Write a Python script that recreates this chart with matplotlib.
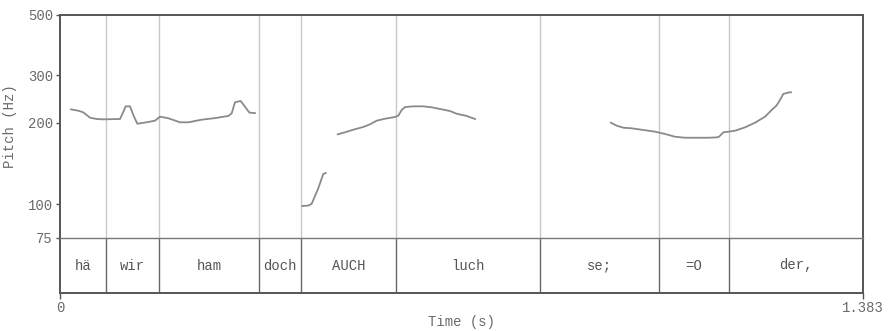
import matplotlib
matplotlib.use("Agg")
import matplotlib.pyplot as plt
from matplotlib.ticker import FixedLocator, NullLocator

# Pitch track, split into voiced stretches (time in s, F0 in Hz)
seg1_t = [0.019, 0.0315, 0.040, 0.0517, 0.0632, 0.0746, 0.1034, 0.1091, 0.1132,
          0.1206, 0.1263, 0.1332, 0.1494, 0.1637, 0.1723, 0.1866, 0.2068, 0.2211,
          0.2441, 0.2671, 0.2900, 0.2958, 0.3015, 0.3113, 0.3187, 0.3262, 0.3360]
seg1_f = [224, 221.5, 218.5, 208.7, 206.4, 205.8, 206.4, 219.6, 229.9,
          229.9, 213.6, 198.3, 200.7, 203.5, 210.5, 207.7, 200.7, 200.7,
          205.2, 208.0, 211.8, 216.6, 237.9, 240.6, 229.2, 218.0, 217.0]

seg2_t = [0.4175, 0.4278, 0.4337, 0.4450, 0.4536, 0.4578]
seg2_f = [98.5, 98.8, 100.4, 114.5, 129.3, 130.4]

seg3_t = [0.4785, 0.4910, 0.5053, 0.5226, 0.5341, 0.5457, 0.5600, 0.5772, 0.5829,
          0.5887, 0.5944, 0.6087, 0.6259, 0.6404, 0.6547, 0.6719, 0.6835, 0.7007,
          0.7150]
seg3_f = [181.2, 184.3, 188.4, 192.9, 197.3, 203.5, 206.9, 210.0, 212.3,
          222.9, 228.5, 229.9, 229.9, 228.0, 224.8, 220.9, 215.9, 211.8,
          206.4]

seg4_t = [0.9493, 0.9592, 0.9705, 0.9850, 1.0022, 1.0252, 1.0424, 1.0596, 1.0769,
          1.0998, 1.1170, 1.1315, 1.1354, 1.1429, 1.1515, 1.1630, 1.1803, 1.1975,
          1.2147, 1.2262, 1.2348, 1.2405, 1.2462, 1.2567, 1.2595]
seg4_f = [200.0, 195.0, 191.7, 190.7, 188.4, 185.3, 181.7, 177.5, 176.0,
          176.0, 176.0, 176.5, 177.5, 184.3, 185.3, 186.8, 192.3, 200.0,
          210.5, 222.9, 231.9, 242.6, 255.4, 259.1, 259.1]

segments = [(seg1_t, seg1_f), (seg2_t, seg2_f), (seg3_t, seg3_f), (seg4_t, seg4_f)]

# Word tier
boundaries = [0.0787, 0.1706, 0.3434, 0.4147, 0.5794, 0.8265, 1.0320, 1.1526]
words = ["hä", "wir", "ham", "doch", "AUCH", "luch", "se;", "=O", "der,"]

t_min, t_max = 0.0, 1.383
f_min, f_max = 75, 500
y_ticks = [75, 100, 200, 300, 500]

MONO = "Liberation Mono"
FRAME = "#555555"
TEXT = "#6a6a6a"

W, H = 888, 331
fig = plt.figure(figsize=(W / 100, H / 100), dpi=100)

left, right = 60 / W, 862.7 / W
y_top, y_mid, y_bot = 15, 238, 293

ax = fig.add_axes([left, (H - y_mid) / H, right - left, (y_mid - y_top) / H])
tier = fig.add_axes([left, (H - y_bot) / H, right - left, (y_bot - y_mid) / H])
tier.patch.set_alpha(0)

# Pitch panel
ax.set_yscale("log")
ax.set_xlim(t_min, t_max)
ax.set_ylim(f_min, f_max)
for b in boundaries:
    ax.axvline(b, color="#c8c8c8", lw=1.0, zorder=1)
for t, f in segments:
    ax.plot(t, f, color="#8a8a8a", lw=1.3, zorder=3, solid_joinstyle="round")

ax.yaxis.set_major_locator(FixedLocator(y_ticks))
ax.yaxis.set_minor_locator(NullLocator())
ax.set_yticklabels([str(v) for v in y_ticks], fontfamily=MONO, fontsize=10, color=TEXT)
ax.tick_params(axis="y", direction="out", length=3, width=1, color=FRAME, pad=2)
ax.set_xticks([])
ax.set_ylabel("Pitch (Hz)", fontfamily=MONO, fontsize=10, color=TEXT, labelpad=8)
for side in ["left", "right", "top"]:
    ax.spines[side].set_color(FRAME)
    ax.spines[side].set_linewidth(1.4)
ax.spines["bottom"].set_visible(False)

# Tier panel
tier.set_xlim(t_min, t_max)
tier.set_ylim(0, 1)
for b in boundaries:
    tier.axvline(b, color="#666666", lw=1.0)
edges = [t_min] + boundaries + [t_max]
for a, b, w in zip(edges[:-1], edges[1:], words):
    tier.text((a + b) / 2, 0.5, w, ha="center", va="center",
              fontfamily=MONO, fontsize=10, color="#555555")
tier.set_yticks([])
tier.set_xticks([t_min, t_max])
tier.set_xticklabels(["0", "1.383"], fontfamily=MONO, fontsize=10, color=TEXT)
tier.tick_params(axis="x", direction="out", length=4, width=1, color=FRAME, pad=2)
tier.set_xlabel("Time (s)", fontfamily=MONO, fontsize=10, color=TEXT, labelpad=0)
for side in ["left", "right", "bottom"]:
    tier.spines[side].set_color(FRAME)
    tier.spines[side].set_linewidth(1.4)
tier.spines["top"].set_color("#777777")
tier.spines["top"].set_linewidth(1.0)

fig.savefig("out.png", dpi=100, facecolor="white")
